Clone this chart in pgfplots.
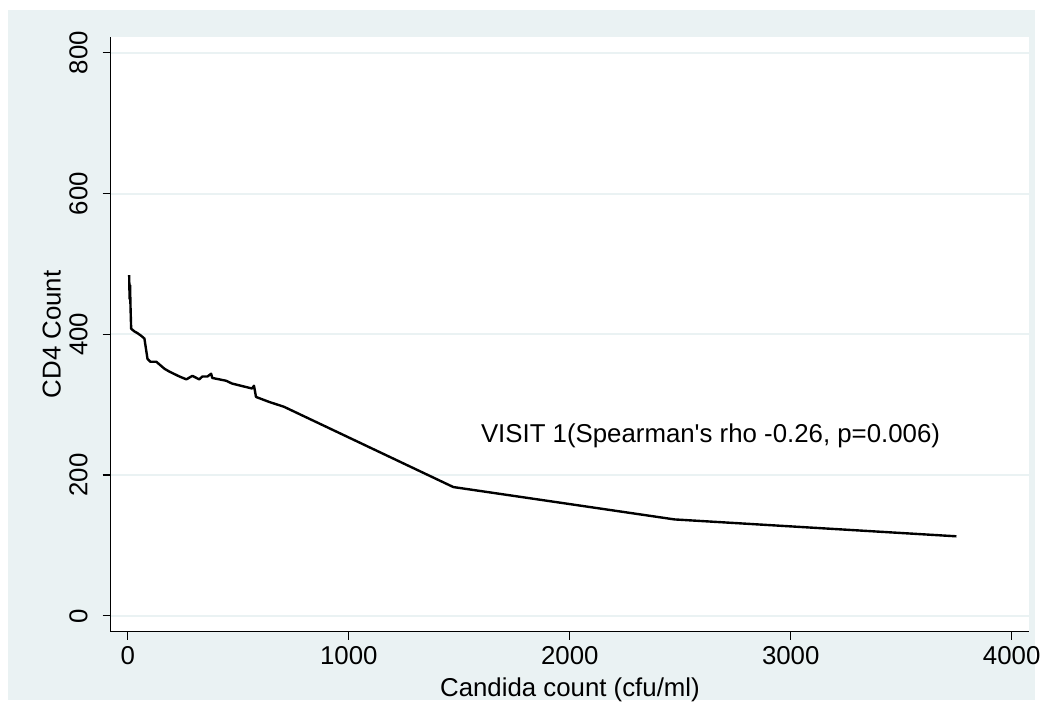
\documentclass[border=0pt]{standalone}
\usepackage{pgfplots}
\pgfplotsset{compat=1.18}
\usepackage{fontspec}
\setmainfont{Liberation Sans}
\definecolor{statabg}{HTML}{EAF2F3}

\begin{document}
\begin{tikzpicture}
\fill[white] (0,0) rectangle (523.5bp,355.5bp);
\fill[statabg] (4bp,4.5bp) rectangle (519.5bp,350.5bp);
\begin{axis}[
at={(55.5bp,38.5bp)},
anchor=south west,
scale only axis,
width=461bp,
height=298.5bp,
xmin=-78, xmax=4080,
ymin=-22.6, ymax=822.6,
axis background/.style={fill=white},
axis x line*=bottom,
axis y line*=left,
axis line style={black, line width=0.6bp, -},
xtick={0,1000,2000,3000,4000},
ytick={0,200,400,600,800},
tick align=outside,
major tick length=4bp,
tick style={black, line width=0.6bp},
ymajorgrids=true,
major grid style={statabg, line width=1bp},
/pgf/number format/assume math mode=true,
/pgf/number format/1000 sep={},
tick label style={font=\fontsize{13}{15}\selectfont},
yticklabel style={rotate=90, anchor=south, yshift=4bp},
label style={font=\fontsize{13}{15}\selectfont},
xlabel={Candida count (cfu/ml)},
ylabel={CD4 Count},
xlabel style={at={(axis description cs:0.5,0)}, anchor=center, yshift=-29bp},
ylabel style={at={(axis description cs:0,0.5)}, anchor=center, yshift=29.5bp},
clip=false
]
\addplot[black, line width=1.2bp, line join=round] coordinates {
(6,484) (8,450) (10,470) (12,440) (15,408)
(30,404) (42,402) (60,398) (75,394) (89,365) (102,361) (129,361)
(166,351) (188,347) (234,340) (265,336) (292,341)
(323,336) (337,340) (360,340) (377,344) (382,338)
(445,334) (472,330) (562,323) (571,327) (580,311)
(639,304) (707,297) (1473,183) (2474,137) (3750,113)
};
\node[font=\fontsize{13}{15}\selectfont, anchor=center] at (axis cs:2637,256) {VISIT 1(Spearman\textquotesingle s rho -0.26, p=0.006)};
\end{axis}
\end{tikzpicture}
\end{document}
